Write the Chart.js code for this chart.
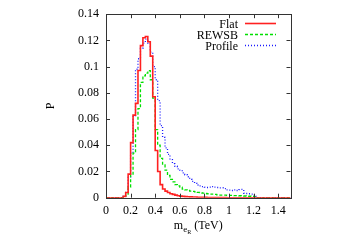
<!DOCTYPE html>
<html>
<head>
<meta charset="utf-8">
<script src="https://cdn.jsdelivr.net/npm/chart.js@4/dist/chart.umd.min.js"></script>
<style>
  body { margin: 0; background: #fff; }
  canvas { display: block; }
</style>
</head>
<body>
<canvas id="c" width="350" height="245"></canvas>
<script>
// histogram bins: left edges start at firstEdge, width binWidth (TeV)
const firstEdge = 0.14;
const binWidth = 0.02;
const xTicks = [0, 0.2, 0.4, 0.6, 0.8, 1, 1.2, 1.4];
const yTicks = [0, 0.02, 0.04, 0.06, 0.08, 0.1, 0.12, 0.14];

const flat = [0, 0.001, 0.004, 0.018, 0.042, 0.063, 0.072, 0.097, 0.116, 0.122,
  0.123, 0.119, 0.108, 0.077, 0.036, 0.020, 0.010, 0.0066, 0.005, 0.004,
  0.003, 0.0025, 0.002, 0.0015, 0.0012, 0.001, 0.0008, 0.0007, 0.0006, 0.0005,
  0.0005, 0.0004, 0.0004, 0.0003, 0.0003, 0.0002, 0.0002, 0.0002, 0.0001, 0.0001,
  0.0001, 0.0001, 0.0001, 0, 0, 0, 0, 0, 0, 0, 0, 0, 0, 0, 0, 0, 0];
const rewsb = [0, 0.001, 0.002, 0.008, 0.018, 0.034, 0.052, 0.068, 0.088, 0.093,
  0.095, 0.097, 0.090, 0.076, 0.052, 0.040, 0.030, 0.025, 0.021, 0.017,
  0.014, 0.012, 0.010, 0.009, 0.008, 0.0065, 0.006, 0.0055, 0.005, 0.0048,
  0.0045, 0.004, 0.0038, 0.0035, 0.0032, 0.003, 0.0028, 0.0027, 0.0025, 0.0022,
  0.002, 0.002, 0.0019, 0.0018, 0.0018, 0.0017, 0.0016, 0.0016, 0.0015, 0.0014,
  0.0013, 0.0012, 0.0011, 0.001, 0.0008, 0, 0];
const profile = [0, 0.001, 0.004, 0.016, 0.034, 0.062, 0.098, 0.106, 0.114, 0.118,
  0.121, 0.118, 0.111, 0.100, 0.090, 0.074, 0.055, 0.046, 0.038, 0.033,
  0.029, 0.026, 0.024, 0.022, 0.021, 0.019, 0.0175, 0.016, 0.014, 0.0125,
  0.011, 0.0097, 0.009, 0.0085, 0.008, 0.0078, 0.008, 0.0085, 0.008, 0.0078,
  0.0075, 0.0076, 0.007, 0.006, 0.0058, 0.0055, 0.006, 0.0055, 0.0062, 0.0064,
  0.0034, 0.0032, 0.003, 0.0028, 0.002, 0, 0];

const FONT = "'Liberation Serif', 'DejaVu Serif', serif";

function toSteps(vals) {
  const pts = [{x: 0, y: 0}];
  vals.forEach((v, i) => pts.push({x: firstEdge + i * binWidth, y: v}));
  pts.push({x: firstEdge + vals.length * binWidth, y: 0});
  pts.push({x: 1.5, y: 0});
  return pts;
}

function fmt(v) {
  return String(+v.toFixed(3));
}

const framePlugin = {
  id: 'frame',
  afterDraw(chart) {
    const ctx = chart.ctx;
    const {left, right, top, bottom} = chart.chartArea;
    const xs = chart.scales.x, ys = chart.scales.y;
    ctx.save();
    ctx.strokeStyle = '#333';
    ctx.lineWidth = 1;
    ctx.beginPath();
    xTicks.forEach(t => {
      const px = Math.round(xs.getPixelForValue(t)) + 0.5;
      ctx.moveTo(px, bottom); ctx.lineTo(px, bottom - 4);
      ctx.moveTo(px, top); ctx.lineTo(px, top + 4);
    });
    yTicks.forEach(t => {
      const py = Math.round(ys.getPixelForValue(t)) + 0.5;
      ctx.moveTo(left, py); ctx.lineTo(left + 4, py);
      ctx.moveTo(right, py); ctx.lineTo(right - 4, py);
    });
    ctx.stroke();
    ctx.strokeRect(Math.round(left) + 0.5, Math.round(top) + 0.5,
      Math.round(right - left), Math.round(bottom - top));

    // legend: right-aligned labels, sample line after
    ctx.font = '12px ' + FONT;
    ctx.fillStyle = '#000';
    ctx.textAlign = 'right';
    ctx.textBaseline = 'middle';
    chart.data.datasets.forEach((ds, i) => {
      const y = 23.5 + i * 11;
      ctx.fillText(ds.label, 238, y + 1);
      ctx.strokeStyle = ds.borderColor;
      ctx.lineWidth = ds.borderWidth;
      ctx.setLineDash(ds.borderDash || []);
      ctx.beginPath();
      ctx.moveTo(245, y); ctx.lineTo(276, y);
      ctx.stroke();
    });
    ctx.setLineDash([]);

    // x title with nested subscripts: m_{e_R} (TeV)
    const parts = [
      {t: 'm', size: 12, dy: 0},
      {t: 'e', size: 9, dy: 3},
      {t: 'R', size: 6, dy: 5},
      {t: ' (TeV)', size: 12, dy: 0}
    ];
    ctx.textAlign = 'left';
    ctx.textBaseline = 'alphabetic';
    let total = 0;
    parts.forEach(p => { ctx.font = p.size + 'px ' + FONT; p.w = ctx.measureText(p.t).width; total += p.w; });
    let x = (left + right) / 2 - total / 2;
    parts.forEach(p => {
      ctx.font = p.size + 'px ' + FONT;
      ctx.fillText(p.t, x, 229 + p.dy);
      x += p.w;
    });
    ctx.restore();
  }
};

const common = {pointRadius: 0, tension: 0, stepped: 'after', fill: false};

new Chart(document.getElementById('c'), {
  type: 'line',
  data: {
    datasets: [
      {label: 'Flat', data: toSteps(flat), borderColor: '#ff2020', borderWidth: 1.6, ...common},
      {label: 'REWSB', data: toSteps(rewsb), borderColor: '#00e000', borderWidth: 1.3, borderDash: [3, 2], ...common},
      {label: 'Profile', data: toSteps(profile), borderColor: '#1a1aff', borderWidth: 1.3, borderDash: [1, 2], ...common}
    ]
  },
  options: {
    responsive: false,
    animation: false,
    devicePixelRatio: 1,
    layout: {padding: {left: 0, top: 14, right: 59.5, bottom: 0}},
    plugins: {legend: {display: false}, tooltip: {enabled: false}},
    scales: {
      x: {
        type: 'linear',
        min: 0,
        max: 1.5,
        grid: {display: false, drawTicks: false},
        border: {display: false},
        afterBuildTicks: s => { s.ticks = xTicks.map(v => ({value: v})); },
        afterFit: s => { s.height = 47.3; },
        ticks: {
          padding: 6,
          color: '#000',
          maxRotation: 0,
          autoSkip: false,
          font: {family: FONT, size: 12},
          callback: v => fmt(v)
        }
      },
      y: {
        min: 0,
        max: 0.14,
        grid: {display: false, drawTicks: false},
        border: {display: false},
        afterBuildTicks: s => { s.ticks = yTicks.map(v => ({value: v})); },
        afterFit: s => { s.width = 106; },
        title: {
          display: true,
          text: 'P',
          color: '#000',
          font: {family: FONT, size: 12},
          padding: {top: 44, bottom: 0}
        },
        ticks: {
          padding: 7,
          color: '#000',
          font: {family: FONT, size: 12},
          callback: v => fmt(v)
        }
      }
    }
  },
  plugins: [framePlugin]
});
</script>
</body>
</html>
